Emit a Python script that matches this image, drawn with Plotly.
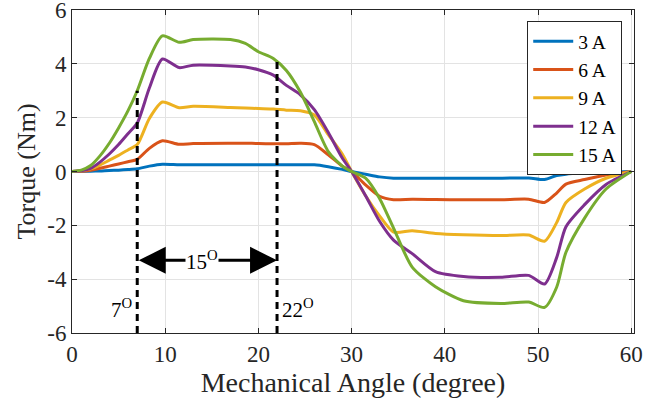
import plotly.graph_objects as go

angle = [0, 1, 2, 3, 4, 5, 6, 7, 8.3, 9.7, 11.5, 13, 17, 18.6, 20, 21.6, 23, 24.5, 26, 27.5, 29, 30,
         31.5, 33, 34.5, 36.5, 39, 42, 46, 49, 50.7, 52, 53, 55, 57.3, 60]

torque_3A = [0, 0.005, 0.01, 0.02, 0.04, 0.05, 0.07, 0.1, 0.2, 0.27, 0.25, 0.25, 0.25, 0.25, 0.25, 0.25, 0.25, 0.25, 0.25, 0.18, 0.08, 0,
             -0.1, -0.2, -0.25, -0.25, -0.25, -0.25, -0.25, -0.24, -0.3, -0.15, -0.1, -0.06, -0.03, 0]
torque_6A = [0, 0.01, 0.05, 0.12, 0.2, 0.28, 0.36, 0.45, 0.86, 1.14, 1.01, 1.04, 1.05, 1.05, 1.04, 1.03, 1.03, 1.05, 1.0, 0.62, 0.2, 0,
             -0.5, -0.92, -1.05, -1.03, -1.04, -1.05, -1.05, -1.03, -1.15, -0.8, -0.47, -0.3, -0.13, 0]
torque_9A = [0, 0.03, 0.1, 0.24, 0.42, 0.6, 0.8, 1.0, 1.97, 2.58, 2.37, 2.42, 2.38, 2.36, 2.34, 2.32, 2.28, 2.26, 2.1, 1.37, 0.65, 0,
             -0.9, -1.65, -2.25, -2.2, -2.3, -2.35, -2.38, -2.36, -2.59, -1.9, -1.15, -0.65, -0.25, 0]
torque_12A = [0, 0.03, 0.12, 0.35, 0.65, 1.0, 1.4, 1.8, 3.1, 4.18, 3.86, 3.95, 3.92, 3.88, 3.78, 3.58, 3.2, 2.85, 2.3, 1.45, 0.5, 0,
              -0.9, -1.85, -2.55, -3.05, -3.72, -3.9, -3.93, -3.86, -4.18, -3.2, -2.05, -1.23, -0.48, 0]
torque_15A = [0, 0.05, 0.22, 0.58, 1.05, 1.62, 2.25, 3.0, 4.2, 5.04, 4.8, 4.9, 4.9, 4.76, 4.45, 4.2, 3.75, 2.95, 1.85, 0.74, 0.2, 0,
              -0.25, -1.0, -2.1, -3.55, -4.28, -4.8, -4.9, -4.85, -5.05, -4.3, -3.0, -1.73, -0.65, 0]

series_names = ["3 A", "6 A", "9 A", "12 A", "15 A"]
series_values = [torque_3A, torque_6A, torque_9A, torque_12A, torque_15A]
colors = ["#0072BD", "#D95319", "#EDB120", "#7E2F8E", "#77AC30"]

x_ticks = [0, 10, 20, 30, 40, 50, 60]
y_ticks = [-6, -4, -2, 0, 2, 4, 6]
y_tick_labels = ["-6", "-4", "-2", "0", "2", "4", "6"]

marker_angles = [7, 22]
marker_tops = [3.0, 4.15]
span_y = -3.3

FONT = "Liberation Serif"

fig = go.Figure()
for name, vals, col in zip(series_names, series_values, colors):
    fig.add_trace(go.Scatter(x=angle, y=vals, name=name, mode="lines",
                             line=dict(color=col, width=3, shape="spline", smoothing=0.7)))

for xa, top in zip(marker_angles, marker_tops):
    fig.add_shape(type="line", x0=xa, x1=xa, y0=-6, y1=top, xref="x", yref="y",
                  line=dict(color="black", width=3, dash="7px,5px"))

fig.add_annotation(x=marker_angles[1], y=span_y, ax=marker_angles[0], ay=span_y,
                   xref="x", yref="y", axref="x", ayref="y", text="",
                   showarrow=True, arrowhead=2, arrowside="end+start",
                   arrowsize=1.8, arrowwidth=3, arrowcolor="black")
fig.add_annotation(x=(marker_angles[0] + marker_angles[1]) / 2 - 0.6, y=span_y, text="15<sup>O</sup>",
                   showarrow=False, bgcolor="white", font=dict(family=FONT, size=21, color="black"),
                   borderpad=0)
fig.add_annotation(x=marker_angles[0] - 0.3, y=-5.1, text="7<sup>O</sup>", showarrow=False,
                   xanchor="right", font=dict(family=FONT, size=21, color="black"))
fig.add_annotation(x=marker_angles[1] + 0.3, y=-5.1, text="22<sup>O</sup>", showarrow=False,
                   xanchor="left", font=dict(family=FONT, size=21, color="black"))

axis_common = dict(showline=True, linecolor="#262626", linewidth=1, mirror="ticks",
                   ticks="inside", ticklen=5, tickcolor="#262626",
                   showgrid=True, gridcolor="#E3E3E3", gridwidth=1, zeroline=False,
                   automargin=False, ticklabeloverflow="allow",
                   tickfont=dict(family=FONT, size=23, color="#262626"))

fig.update_xaxes(range=[0, 60.3], tickvals=x_ticks,
                 title=dict(text="Mechanical Angle (degree)", font=dict(family=FONT, size=28, color="#262626"),
                            standoff=4),
                 **axis_common)
fig.update_yaxes(range=[-6, 6], tickvals=y_ticks, ticktext=y_tick_labels,
                 title=dict(text="Torque (Nm)", font=dict(family=FONT, size=26, color="#262626"),
                            standoff=4),
                 **axis_common)

fig.update_layout(
    width=647, height=411,
    margin=dict(l=72, r=13, t=10, b=78, autoexpand=False),
    paper_bgcolor="white", plot_bgcolor="white",
    font=dict(family=FONT, color="#262626"),
    legend=dict(x=0.81, y=0.966, xanchor="left", yanchor="top",
                bgcolor="white", bordercolor="#262626", borderwidth=1,
                font=dict(family=FONT, size=19.5, color="black"),
                tracegroupgap=0, itemwidth=40),
    showlegend=True,
)

fig.write_html("out.html", config={"displayModeBar": False},
               post_script="document.body.style.margin='0';document.body.style.overflow='hidden';")
